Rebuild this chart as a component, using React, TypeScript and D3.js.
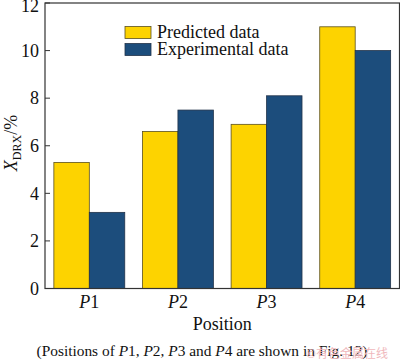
import * as d3 from 'd3'

const positions = ['P1', 'P2', 'P3', 'P4']
const predicted = [5.3, 6.6, 6.9, 11.0]
const experimental = [3.2, 7.5, 8.1, 10.0]
const yTickValues = [0, 2, 4, 6, 8, 10, 12]
const seriesNames = ['Predicted data', 'Experimental data']
const seriesColors = ['#FDD300', '#1C4D7C']
const strokeColors = ['#5a5020', '#22334a']

const FONT = 'Liberation Serif'

export default function App() {
  const width = 400
  const height = 363
  const plot = { left: 45, right: 399.5, top: 3, bottom: 288.5 }

  const x = d3
    .scaleBand<string>()
    .domain(positions)
    .range([plot.left, plot.right])
    .paddingInner(0.2)
    .paddingOuter(0.1)
  const sub = d3.scaleBand<number>().domain([0, 1]).range([0, x.bandwidth()])
  const y = d3.scaleLinear().domain([0, 12]).range([plot.bottom, plot.top])

  const series = [predicted, experimental]

  return (
    <svg width={width} height={height} style={{ position: 'absolute', left: 0, top: 0, background: '#fff' }}>
      {/* bars */}
      {series.map((vals, si) => (
        <g key={si} fill={seriesColors[si]} stroke={strokeColors[si]} strokeWidth={0.8}>
          {positions.map((p, i) => (
            <rect
              key={p}
              x={x(p)! + sub(si)!}
              y={y(vals[i])}
              width={sub.bandwidth()}
              height={y(0) - y(vals[i])}
            />
          ))}
        </g>
      ))}

      {/* frame */}
      <rect
        x={plot.left}
        y={plot.top}
        width={plot.right - plot.left}
        height={plot.bottom - plot.top}
        fill="none"
        stroke="#333"
        strokeWidth={1.2}
      />

      {/* y axis, ticks point inward */}
      {yTickValues.map((t) => (
        <g key={t} transform={`translate(${plot.left},${y(t)})`}>
          <line x2={5} stroke="#333" strokeWidth={1} />
          <text x={-6} dy={t === 12 ? '0.5em' : '0.35em'} fontFamily={FONT} fontSize={18} textAnchor="end" fill="#111">
            {t}
          </text>
        </g>
      ))}

      {/* x axis labels */}
      {positions.map((p) => (
        <text key={p} x={x(p)! + x.bandwidth() / 2} y={308} fontFamily={FONT} fontSize={18} textAnchor="middle" fill="#111">
          <tspan fontStyle="italic">{p[0]}</tspan>
          {p.slice(1)}
        </text>
      ))}
      <text x={(plot.left + plot.right) / 2} y={330} fontFamily={FONT} fontSize={18} textAnchor="middle" fill="#111">
        Position
      </text>

      {/* y axis title */}
      <text transform="translate(17,143) rotate(-90)" textAnchor="middle" fontSize={18} fill="#111" fontFamily={FONT}>
        <tspan fontStyle="italic">X</tspan>
        <tspan fontSize={12} dy={4}>
          DRX
        </tspan>
        <tspan dy={-4}>/%</tspan>
      </text>

      {/* legend */}
      {seriesNames.map((name, i) => (
        <g key={name} transform={`translate(125,${26.5 + i * 17})`}>
          <rect width={26} height={12} fill={seriesColors[i]} stroke={strokeColors[i]} strokeWidth={0.8} />
          <text x={32} y={6} dy="0.32em" fontFamily={FONT} fontSize={18} fill="#111">
            {name}
          </text>
        </g>
      ))}

      {/* caption */}
      <text x={202} y={356} textAnchor="middle" fontSize={15.4} fill="#111" fontFamily={FONT}>
        (Positions of <tspan fontStyle="italic">P</tspan>1, <tspan fontStyle="italic">P</tspan>2,{' '}
        <tspan fontStyle="italic">P</tspan>3 and <tspan fontStyle="italic">P</tspan>4 are shown in Fig. 12)
      </text>

      {/* watermark */}
      <text x={306} y={358} fontSize={12} fill="#f0b8bc" fontFamily="Noto Sans CJK SC">
        ©有色金属在线
      </text>
    </svg>
  )
}
